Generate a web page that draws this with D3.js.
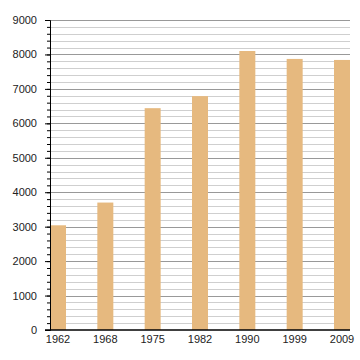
<!DOCTYPE html>
<html>
<head>
<meta charset="utf-8">
<script src="https://cdn.jsdelivr.net/npm/d3@7"></script>
<style>
  body { margin: 0; background: #fff; }
  text { font-family: "Liberation Sans", Arial, sans-serif; font-size: 11px; fill: #222; }
</style>
</head>
<body>
<svg id="chart" width="360" height="360"></svg>
<script>
const years = ['1962', '1968', '1975', '1982', '1990', '1999', '2009'];
const population = [3040, 3700, 6440, 6790, 8100, 7870, 7840];
const yTicks = [0, 1000, 2000, 3000, 4000, 5000, 6000, 7000, 8000, 9000];

const margin = { top: 20, right: 10, bottom: 30, left: 50 };
const width = 360 - margin.left - margin.right;
const height = 360 - margin.top - margin.bottom;

const svg = d3.select('#chart');
const g = svg.append('g').attr('transform', `translate(${margin.left},${margin.top})`);

const x = d3.scaleBand().domain(years).range([0, width]).paddingInner(0.662).paddingOuter(0);
const y = d3.scaleLinear().domain([0, 9000]).range([height, 0]);

// minor grid every 200
const minor = d3.range(200, 9001, 200).filter((v) => v % 1000 !== 0);
g.selectAll('.minor')
  .data(minor)
  .enter()
  .append('line')
  .attr('x1', 0).attr('x2', width)
  .attr('y1', (d) => Math.round(y(d)) + 0.5).attr('y2', (d) => Math.round(y(d)) + 0.5)
  .attr('stroke', '#cfcfcf');

g.selectAll('.major')
  .data(yTicks.slice(1))
  .enter()
  .append('line')
  .attr('x1', 0).attr('x2', width)
  .attr('y1', (d) => Math.round(y(d)) + 0.5).attr('y2', (d) => Math.round(y(d)) + 0.5)
  .attr('stroke', '#999');

g.selectAll('.bar')
  .data(population)
  .enter()
  .append('rect')
  .attr('x', (d, i) => x(years[i]))
  .attr('y', (d) => y(d))
  .attr('width', x.bandwidth())
  .attr('height', (d) => height - y(d))
  .attr('fill', '#e6b97f');

// y axis with minor ticks
const yAxisMinor = d3.axisLeft(y).tickValues(d3.range(0, 9001, 200)).tickSize(3).tickFormat('');
g.append('g').call(yAxisMinor)
  .call((a) => a.select('.domain').attr('stroke', '#000'))
  .call((a) => a.selectAll('.tick line').attr('stroke', '#000'));

const yAxis = d3.axisLeft(y).tickValues(yTicks).tickSize(5).tickPadding(8).tickFormat(d3.format('d'));
g.append('g').call(yAxis)
  .call((a) => a.select('.domain').remove())
  .call((a) => a.selectAll('.tick line').attr('stroke', '#000'))
  .call((a) => a.selectAll('.tick text').attr('font-family', null).attr('font-size', null));

const xAxis = d3.axisBottom(x).tickSize(0).tickPadding(5);
g.append('g').attr('transform', `translate(0,${height})`).call(xAxis)
  .call((a) => a.select('.domain').attr('stroke', '#000').attr('stroke-width', 1.5).attr('d', `M-5,0H${width}`))
  .call((a) => a.selectAll('.tick text').attr('font-family', null).attr('font-size', null));
</script>
</body>
</html>
